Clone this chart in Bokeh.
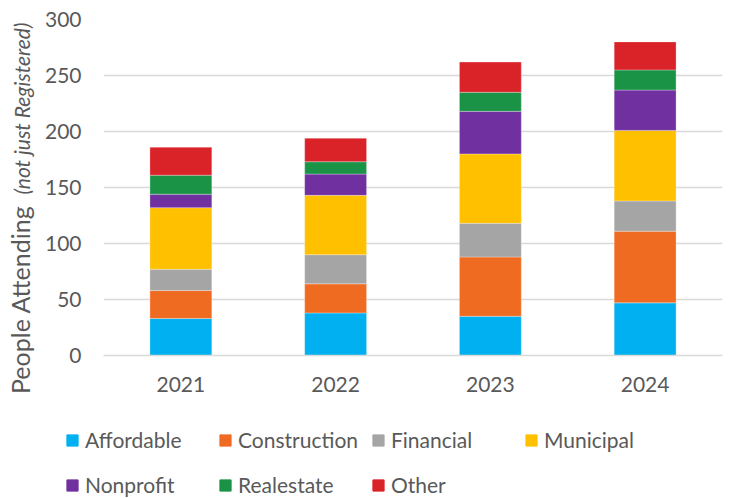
import math
from bokeh.plotting import figure
from bokeh.layouts import row, column
from bokeh.models import ColumnDataSource, Legend, LegendItem, FactorRange, Range1d
from bokeh.core.properties import value
from bokeh.embed import file_html
from bokeh.resources import INLINE

# ---- data ----
years = ["2021", "2022", "2023", "2024"]
categories = ["Affordable", "Construction", "Financial", "Municipal",
              "Nonprofit", "Realestate", "Other"]
affordable = [33, 38, 35, 47]
construction = [25, 26, 53, 64]
financial = [19, 26, 30, 27]
municipal = [55, 53, 62, 63]
nonprofit = [12, 19, 38, 36]
realestate = [17, 11, 17, 18]
other = [25, 21, 27, 25]
y_ticks = [0, 50, 100, 150, 200, 250, 300]
y_title = "People Attending"
y_subtitle = "(not just Registered)"

colors = ["#00B0F0", "#F06B22", "#A5A5A5", "#FFC000",
          "#7030A0", "#1A9346", "#DA2229"]

FONT = "Lato"
TXT = "#595959"
GRID = "#D9D9D9"
W = 731
TOP_H = 410   # chart area height
LEG_H = 88    # legend strip height
LW = 40       # width of the strip holding the y-axis title

source = ColumnDataSource(dict(
    year=years,
    Affordable=affordable, Construction=construction, Financial=financial,
    Municipal=municipal, Nonprofit=nonprofit, Realestate=realestate, Other=other,
))

# ---- strip with the vertical y-axis title ----
lab = figure(width=LW, height=TOP_H, x_range=(0, LW), y_range=(0, TOP_H),
             x_axis_type=None, y_axis_type=None, output_backend="svg",
             toolbar_location=None, min_border=0)
lab.frame_align = False
lab.outline_line_color = None
lab.text(x=[19], y=[TOP_H - 393.5], text=[y_title], angle=math.pi / 2,
         text_font=value(FONT), text_font_size="25px", text_color=TXT,
         text_align="left", text_baseline="alphabetic")
lab.text(x=[21], y=[TOP_H - 194], text=[y_subtitle], angle=math.pi / 2,
         text_font=value(FONT), text_font_style="italic",
         text_font_size="21px", text_color=TXT,
         text_align="left", text_baseline="alphabetic")

# ---- main chart ----
p = figure(x_range=FactorRange(*years), y_range=(0, 300),
           width=W - LW, height=TOP_H, output_backend="svg",
           toolbar_location=None,
           min_border_left=103 - LW, min_border_right=9, min_border_top=19,
           min_border_bottom=TOP_H - 355)
p.x_range.range_padding = 0
p.outline_line_color = None

renderers = p.vbar_stack(categories, x="year", width=0.4, color=colors,
                         line_color="white", line_width=0.6, line_alpha=0.5,
                         source=source)

p.yaxis.ticker = y_ticks
p.yaxis.axis_line_color = None
p.yaxis.major_tick_line_color = None
p.yaxis.minor_tick_line_color = None
p.yaxis.major_tick_out = 0
p.yaxis.major_tick_in = 0
p.yaxis.major_label_standoff = 22
p.yaxis.major_label_text_font = FONT
p.yaxis.major_label_text_font_size = "21px"
p.yaxis.major_label_text_color = TXT

p.xaxis.axis_line_color = GRID
p.xaxis.axis_line_width = 1.5
p.xaxis.major_tick_line_color = None
p.xaxis.minor_tick_line_color = None
p.xaxis.major_tick_out = 0
p.xaxis.major_tick_in = 0
p.xaxis.major_label_standoff = 21
p.xaxis.major_label_text_font = FONT
p.xaxis.major_label_text_font_size = "21px"
p.xaxis.major_label_text_color = TXT

p.xgrid.grid_line_color = None
p.ygrid.grid_line_color = GRID
p.ygrid.grid_line_width = 1.5
p.ygrid.ticker = y_ticks

# ---- legend strip (two rows) ----
# the same stacked bars feed the legend keys; the strip's y range lies above
# the data, so only the legend is visible here
leg = figure(width=W, height=LEG_H, x_range=FactorRange(*years),
             y_range=Range1d(1000, 1100),
             x_axis_type=None, y_axis_type=None, output_backend="svg",
             toolbar_location=None, min_border=0)
leg.frame_align = False
leg.outline_line_color = None
keys = leg.vbar_stack(categories, x="year", width=0.4, color=colors,
                      source=source)
items = [LegendItem(label=c, renderers=[r]) for c, r in zip(categories, keys)]


def make_legend(its, loc):
    return Legend(items=its, orientation="horizontal", location=loc,
                  glyph_width=14, glyph_height=14, label_standoff=6,
                  label_width=133, label_height=24, spacing=0, padding=0,
                  margin=0, border_line_color=None, background_fill_alpha=0,
                  label_text_font=FONT, label_text_font_size="21px",
                  label_text_color=TXT)


leg.add_layout(make_legend(items[:4], (65, 46)))
leg.add_layout(make_legend(items[4:], (65, 1)))

layout = column(row(lab, p, spacing=0), leg, spacing=0)
open("out.html", "w").write(file_html(layout, INLINE))
